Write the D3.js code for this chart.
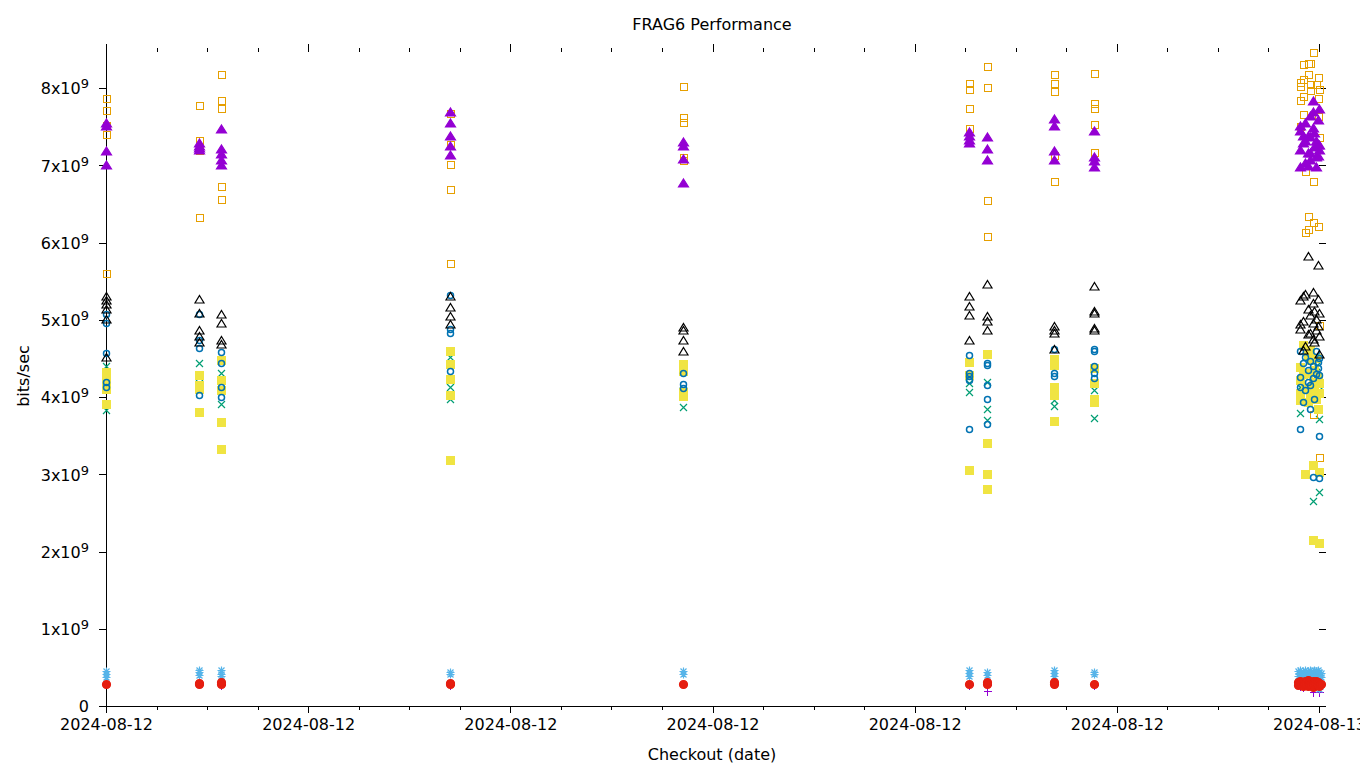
<!DOCTYPE html>
<html>
<head>
<meta charset="utf-8">
<script src="https://cdn.jsdelivr.net/npm/d3@7"></script>
<style>
  html, body { margin: 0; padding: 0; background: #fff; }
  svg text { font-family: "DejaVu Sans", sans-serif; fill: #000; }
</style>
</head>
<body>
<svg id="chart" width="1360" height="768"></svg>
<script>
// ---------------- data (values in units of 10^9 bits/sec) ----------------
const title = "FRAG6 Performance";
const xLabel = "Checkout (date)";
const yLabel = "bits/sec";
const xStart = "18:00:00";   // on 2024-08-12
const xEnd = "24:00:00";
const yTickValues = [0, 1, 2, 3, 4, 5, 6, 7, 8];

// series 1: purple "+"
const plusPts = [
  ["18:00:00", [0.29]], ["18:27:40", [0.28]], ["18:34:10", [0.27, 0.30]],
  ["19:42:00", [0.27]], ["20:51:20", [0.28]], ["22:16:10", [0.27]],
  ["22:21:30", [0.20, 0.27]], ["22:41:20", [0.28]], ["22:53:20", [0.27]],
  ["23:54:25", [0.26]], ["23:55:10", [0.24]], ["23:58:05", [0.18, 0.27]],
  ["23:59:50", [0.25]], ["24:00:05", [0.18]]
];
// series 2: green "x"
const crossPts = [
  ["18:00:00", [4.40, 3.83]], ["18:27:40", [4.44, 4.26]], ["18:34:10", [4.31, 3.91]],
  ["19:42:00", [4.52, 4.13, 3.97]], ["20:51:20", [4.09, 3.87]], ["22:16:10", [4.18, 4.07]],
  ["22:21:30", [4.20, 3.84, 3.70]], ["22:41:20", [3.96, 3.88]], ["22:53:20", [4.09, 3.73]],
  ["23:54:25", [3.79, 4.13]], ["23:55:55", [4.32]], ["23:57:25", [4.05]],
  ["23:58:05", [2.66]], ["23:59:05", [4.40]], ["24:00:05", [3.71, 2.77, 4.14]]
];
// series 3: light blue "*"
const starPts = [
  ["18:00:00", [0.45, 0.41, 0.37]], ["18:27:40", [0.47, 0.44, 0.40]], ["18:34:10", [0.46, 0.42, 0.39]],
  ["19:42:00", [0.44, 0.41]], ["20:51:20", [0.45, 0.42]], ["22:16:10", [0.47, 0.43, 0.39]],
  ["22:21:30", [0.44, 0.40]], ["22:41:20", [0.47, 0.43, 0.39]], ["22:53:20", [0.44, 0.41]],
  ["23:53:50", [0.45, 0.39]], ["23:54:25", [0.47, 0.42, 0.36]], ["23:55:10", [0.44, 0.39]],
  ["23:55:55", [0.46, 0.41]], ["23:56:40", [0.45, 0.40, 0.36]], ["23:57:25", [0.47, 0.42]],
  ["23:58:05", [0.44, 0.39, 0.24]], ["23:58:35", [0.46, 0.41]], ["23:59:05", [0.45, 0.40]],
  ["23:59:50", [0.46, 0.42, 0.37]], ["24:00:05", [0.44, 0.39, 0.22]], ["24:00:30", [0.43, 0.38]]
];
// series 4: orange open square
const boxPts = [
  ["18:00:00", [7.87, 7.72, 7.52, 7.40, 5.61]], ["18:27:40", [7.78, 7.33, 7.20, 6.33]],
  ["18:34:10", [8.18, 7.85, 7.74, 6.73, 6.56]], ["19:42:00", [7.67, 7.28, 7.01, 6.69, 5.73]],
  ["20:51:20", [8.03, 7.62, 7.56, 7.11, 7.07]], ["22:16:10", [8.06, 7.99, 7.74, 7.48]],
  ["22:21:30", [8.29, 8.01, 6.55, 6.09]], ["22:41:20", [8.18, 8.06, 7.96, 7.13, 6.79]],
  ["22:53:20", [8.20, 7.81, 7.74, 7.53, 7.17]],
  ["23:54:25", [8.08, 8.03, 7.85, 7.51]], ["23:55:10", [8.31, 8.12, 7.89, 7.66]],
  ["23:55:55", [6.92, 6.13]], ["23:56:40", [8.33, 8.18, 6.34, 6.17]],
  ["23:57:25", [8.33, 8.05, 7.97]], ["23:58:05", [8.47, 6.80, 6.27, 3.78]],
  ["23:59:05", [8.05]], ["23:59:50", [8.14, 7.87, 7.64, 6.22]],
  ["24:00:05", [7.99, 7.36, 4.93, 3.22]]
];
// series 5: yellow filled square
const boxFPts = [
  ["18:00:00", [4.33, 4.22, 4.11, 3.91]], ["18:27:40", [4.29, 4.15, 4.10, 3.81]],
  ["18:34:10", [4.48, 4.22, 4.09, 3.67, 3.33]], ["19:42:00", [4.60, 4.43, 4.23, 4.03, 3.18]],
  ["20:51:20", [4.43, 4.34, 4.06, 4.01]], ["22:16:10", [4.45, 4.28, 3.06]],
  ["22:21:30", [4.56, 3.41, 3.00, 2.81]], ["22:41:20", [4.49, 4.41, 4.13, 4.03, 3.69]],
  ["22:53:20", [4.37, 4.18, 3.98, 3.93]],
  ["23:54:25", [4.39, 4.22, 3.96, 4.05]], ["23:55:10", [4.67, 4.30]], ["23:55:55", [3.00, 4.12]],
  ["23:56:40", [4.31, 3.94, 4.55]], ["23:57:25", [4.61, 4.48, 4.02]], ["23:58:05", [3.12, 2.15, 4.20]],
  ["23:58:35", [4.09, 4.35]], ["23:59:05", [3.98, 4.50]], ["23:59:50", [4.26, 3.85]],
  ["24:00:05", [4.18, 4.05, 3.03, 2.11]]
];
// series 6: blue open circle
const circPts = [
  ["18:00:00", [5.07, 4.96, 4.57, 4.20, 4.13]], ["18:27:40", [5.08, 4.74, 4.64, 4.03]],
  ["18:34:10", [4.58, 4.44, 4.13, 4.00]], ["19:42:00", [5.32, 4.88, 4.83, 4.34]],
  ["20:51:20", [4.31, 4.17, 4.12]], ["22:16:10", [4.55, 4.31, 4.27, 4.22, 3.58]],
  ["22:21:30", [4.44, 4.41, 4.16, 3.97, 3.65]], ["22:41:20", [4.62, 4.31, 4.27]],
  ["22:53:20", [4.62, 4.59, 4.40, 4.31, 4.24]],
  ["23:54:25", [4.60, 4.26, 4.13, 3.59]], ["23:55:10", [4.44, 3.93]], ["23:55:55", [4.09, 4.52]],
  ["23:56:40", [4.35, 4.20]], ["23:57:25", [4.46, 4.16, 3.84]], ["23:58:05", [4.24, 4.40, 2.96]],
  ["23:58:35", [3.97]], ["23:59:05", [4.59, 4.30]], ["23:59:50", [4.38, 4.45]],
  ["24:00:05", [4.51, 3.50, 2.95, 4.28]]
];
// series 7: red filled circle
const circFPts = [
  ["18:00:00", [0.29]], ["18:27:40", [0.29, 0.30]], ["18:34:10", [0.28, 0.31]],
  ["19:42:00", [0.28, 0.30]], ["20:51:20", [0.29]], ["22:16:10", [0.28]],
  ["22:21:30", [0.29, 0.31]], ["22:41:20", [0.29, 0.31]], ["22:53:20", [0.28]],
  ["23:53:50", [0.31, 0.27]], ["23:54:25", [0.33, 0.29]], ["23:55:10", [0.30, 0.26]],
  ["23:55:55", [0.32, 0.28]], ["23:56:40", [0.34, 0.29, 0.26]], ["23:57:25", [0.31, 0.27]],
  ["23:58:05", [0.33, 0.29, 0.25]], ["23:58:35", [0.30, 0.27]], ["23:59:05", [0.32, 0.28]],
  ["23:59:50", [0.31, 0.27]], ["24:00:05", [0.30, 0.26]], ["24:00:30", [0.29]]
];
// series 8: black open triangle
const triPts = [
  ["18:00:00", [5.29, 5.24, 5.19, 5.13, 5.00, 4.50]], ["18:27:40", [5.25, 5.08, 4.86, 4.78, 4.70]],
  ["18:34:10", [5.06, 4.95, 4.72, 4.67]], ["19:42:00", [5.30, 5.15, 5.04, 4.93]],
  ["20:51:20", [4.89, 4.85, 4.72, 4.58]], ["22:16:10", [5.29, 5.17, 5.05, 4.72]],
  ["22:21:30", [5.45, 5.04, 4.97, 4.85]], ["22:41:20", [4.91, 4.86, 4.81, 4.61]],
  ["22:53:20", [5.42, 5.10, 5.08, 4.88, 4.86]],
  ["23:54:25", [5.24, 4.87, 4.93]], ["23:55:10", [5.30, 4.97, 4.60]], ["23:55:55", [5.32, 4.65]],
  ["23:56:40", [5.81, 5.13, 4.80]], ["23:57:25", [4.82, 5.05]], ["23:58:05", [5.34, 4.95, 4.74, 5.20]],
  ["23:58:35", [5.10, 4.70]], ["23:59:05", [4.85, 5.00]], ["23:59:50", [5.26, 5.70, 4.90]],
  ["24:00:05", [5.08, 4.78, 4.54]]
];
// series 9: purple filled triangle
const triFPts = [
  ["18:00:00", [7.53, 7.50, 7.17, 6.99]], ["18:27:40", [7.27, 7.24, 7.21, 7.19]],
  ["18:34:10", [7.45, 7.20, 7.13, 7.06, 6.99]], ["19:42:00", [7.67, 7.53, 7.37, 7.24, 7.12]],
  ["20:51:20", [7.29, 7.24, 7.07, 6.76]], ["22:16:10", [7.42, 7.37, 7.32, 7.27]],
  ["22:21:30", [7.35, 7.20, 7.06]], ["22:41:20", [7.58, 7.49, 7.17, 7.06]],
  ["22:53:20", [7.43, 7.10, 7.04, 6.97]],
  ["23:54:25", [7.43, 7.18, 6.96, 7.50]], ["23:55:10", [7.28, 7.37]], ["23:55:55", [7.54, 7.02, 7.30]],
  ["23:56:40", [7.37, 6.98, 7.15]], ["23:57:25", [7.62, 7.15, 7.05, 7.35]], ["23:58:05", [7.68, 7.47, 7.82]],
  ["23:58:35", [7.22, 7.40]], ["23:59:05", [7.09, 6.96, 7.30]], ["23:59:50", [7.57, 7.11, 7.25]],
  ["24:00:05", [7.72, 7.25, 7.18]]
];

// ---------------- layout / style ----------------
const UNIT = 1e9;
const plotLeft = 106, plotRight = 1319, plotBottom = 706, plotTop = 52;
const series = [
  { pts: plusPts,  kind: "plus",   color: "#9400d3" },
  { pts: crossPts, kind: "cross",  color: "#009e73" },
  { pts: starPts,  kind: "star",   color: "#56b4e9" },
  { pts: boxPts,   kind: "box",    color: "#e69f00" },
  { pts: boxFPts,  kind: "boxF",   color: "#f0e442" },
  { pts: circPts,  kind: "circ",   color: "#0072b2" },
  { pts: circFPts, kind: "circF",  color: "#e51e10" },
  { pts: triPts,   kind: "tri",    color: "#000000" },
  { pts: triFPts,  kind: "triF",   color: "#9400d3" }
];

const parseT = s => { const [h, m, sec] = s.split(":").map(Number); return new Date(2024, 7, 12, h, m, sec); };

const x = d3.scaleTime().domain([parseT(xStart), parseT(xEnd)]).range([plotLeft, plotRight]);
const y = d3.scaleLinear().domain([0, 8 * UNIT]).range([plotBottom, 88]);

const svg = d3.select("#chart");

// title & labels
svg.append("text").attr("x", 712).attr("y", 30).attr("text-anchor", "middle")
  .style("font-size", "16px").text(title);
svg.append("text").attr("x", 712).attr("y", 760).attr("text-anchor", "middle")
  .style("font-size", "16px").text(xLabel);
svg.append("text").attr("transform", "translate(29,376) rotate(-90)").attr("text-anchor", "middle")
  .style("font-size", "16px").text(yLabel);

// axes
const majorTicks = d3.timeHour.every(1).range(parseT(xStart), d3.timeMinute.offset(parseT(xEnd), 1));
const minorTicks = d3.timeMinute.every(15).range(parseT(xStart), d3.timeMinute.offset(parseT(xEnd), 1))
  .filter(d => d.getMinutes() !== 0);

const xAxis = svg.append("g").attr("transform", `translate(0,${plotBottom})`)
  .call(d3.axisBottom(x).tickValues(majorTicks).tickSize(7).tickPadding(6)
    .tickFormat(d3.timeFormat("%Y-%m-%d")));
xAxis.select(".domain").remove();
xAxis.selectAll("text").style("font-size", "16px").style("font-family", "DejaVu Sans");

const xMinor = svg.append("g").attr("transform", `translate(0,${plotBottom})`)
  .call(d3.axisBottom(x).tickValues(minorTicks).tickSize(4).tickFormat(""));
xMinor.select(".domain").remove();

// top mirror ticks
const xTop = svg.append("g").attr("transform", `translate(0,${plotTop})`)
  .call(d3.axisTop(x).tickValues(majorTicks).tickSize(8).tickFormat(""));
xTop.select(".domain").remove();
const xTopMinor = svg.append("g").attr("transform", `translate(0,${plotTop})`)
  .call(d3.axisTop(x).tickValues(minorTicks).tickSize(4).tickFormat(""));
xTopMinor.select(".domain").remove();

// y axis
const yAxis = svg.append("g").attr("transform", `translate(${plotLeft},0)`)
  .call(d3.axisLeft(y).tickValues(yTickValues.map(v => v * UNIT)).tickSize(7).tickPadding(10)
    .tickFormat(d => ""));
yAxis.select(".domain").remove();
yAxis.selectAll(".tick text").each(function(d) {
  const t = d3.select(this).style("font-size", "16px").style("font-family", "DejaVu Sans")
    .attr("dy", "0.36em");
  const n = d / UNIT;
  if (n === 0) { t.text("0"); }
  else {
    t.append("tspan").text(`${n}x10`);
    t.append("tspan").attr("dy", "-6").style("font-size", "13px").text("9");
  }
});

// right mirror ticks
const yRight = svg.append("g").attr("transform", `translate(${plotRight},0)`)
  .call(d3.axisRight(y).tickValues(yTickValues.map(v => v * UNIT)).tickSize(7).tickFormat(""));
yRight.select(".domain").remove();

svg.selectAll(".tick line").attr("stroke", "#000").attr("shape-rendering", "crispEdges");

// border lines (left and bottom)
svg.append("line").attr("x1", plotLeft + 0.5).attr("x2", plotLeft + 0.5).attr("y1", 44).attr("y2", plotBottom)
  .attr("stroke", "#000").attr("shape-rendering", "crispEdges");
svg.append("line").attr("x1", plotLeft).attr("x2", plotRight + 1).attr("y1", plotBottom + 0.5).attr("y2", plotBottom + 0.5)
  .attr("stroke", "#000").attr("shape-rendering", "crispEdges");

// markers
const shapes = {
  plus:  { d: "M-4,0H4M0,-4V4", fill: false, crisp: true },
  cross: { d: "M-3.5,-3.5L3.5,3.5M-3.5,3.5L3.5,-3.5", fill: false, crisp: false },
  star:  { d: "M-4,0H4M0,-4V4M-3,-3L3,3M-3,3L3,-3", fill: false, crisp: false },
  box:   { d: "M-3.5,-3.5H3.5V3.5H-3.5Z", fill: false, crisp: true },
  boxF:  { d: "M-4,-4H4V4H-4Z", fill: true, crisp: true },
  circ:  { d: "M-3,0A3,3 0 1,0 3,0A3,3 0 1,0 -3,0Z", fill: false, crisp: false },
  circF: { d: "M-4,0A4,4 0 1,0 4,0A4,4 0 1,0 -4,0Z", fill: true, crisp: false },
  tri:   { d: "M0,-5L4.5,2.5H-4.5Z", fill: false, crisp: false },
  triF:  { d: "M0,-5.5L5,2.5H-5Z", fill: true, crisp: false }
};

const plot = svg.append("g");
series.forEach(s => {
  const flat = [];
  s.pts.forEach(([t, vals]) => vals.forEach(v => flat.push({ t: parseT(t), v: v * UNIT })));
  const sh = shapes[s.kind];
  plot.append("g").selectAll("path").data(flat).join("path")
    .attr("transform", d => `translate(${Math.round(x(d.t)) + 0.5},${Math.round(y(d.v)) + 0.5})`)
    .attr("d", sh.d)
    .attr("fill", sh.fill ? s.color : "none")
    .attr("stroke", s.color)
    .attr("stroke-width", s.kind === "circ" ? 1.5 : (sh.crisp ? 1 : 1.2))
    .attr("shape-rendering", sh.crisp ? "crispEdges" : "auto");
});
</script>
</body>
</html>
